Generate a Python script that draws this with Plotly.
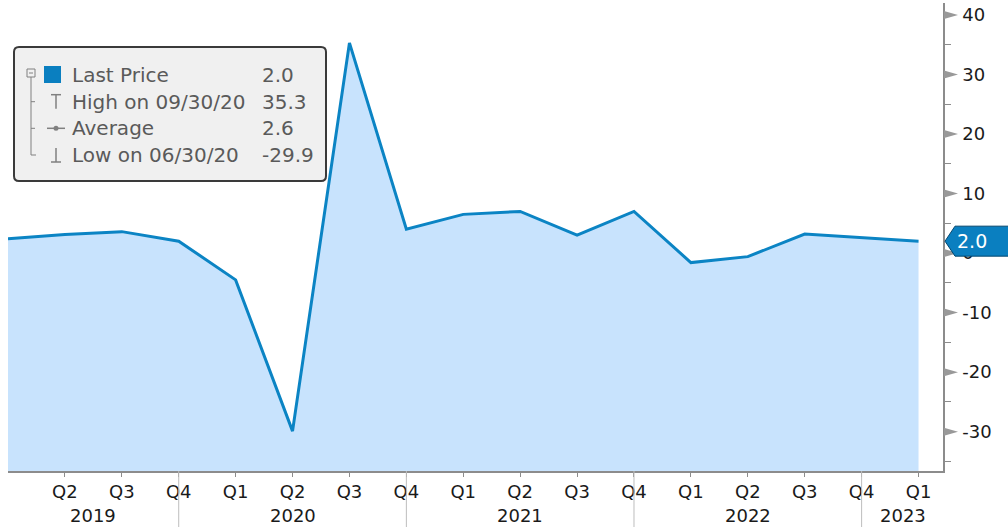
import plotly.graph_objects as go

# ---- data ----
quarters = ["2019 Q1", "2019 Q2", "2019 Q3", "2019 Q4",
            "2020 Q1", "2020 Q2", "2020 Q3", "2020 Q4",
            "2021 Q1", "2021 Q2", "2021 Q3", "2021 Q4",
            "2022 Q1", "2022 Q2", "2022 Q3", "2022 Q4",
            "2023 Q1"]
values = [2.4, 3.1, 3.6, 2.0, -4.5, -29.9, 35.3, 4.0, 6.5, 7.0, 3.0, 7.0,
          -1.6, -0.6, 3.2, 2.6, 2.0]
quarter_labels = [q.split(" ")[1] for q in quarters]
years = ["2019", "2020", "2021", "2022", "2023"]
year_centers = [1.5, 5.0, 9.0, 13.0, 15.72]
year_bounds = ["2019 Q4", "2020 Q4", "2021 Q4", "2022 Q4"]
y_ticks = [-30, -20, -10, 0, 10, 20, 30, 40]
y_ticktext = ["-30", "-20", "-10", "0", "10", "20", "30", "40"]
legend_rows = [("Last Price", "2.0"), ("High on 09/30/20", "35.3"),
               ("Average", "2.6"), ("Low on 06/30/20", "-29.9")]
last_value = values[-1]

Y_MIN, Y_MAX = -36.6, 42.0
X_MAX = 16.43

W, H = 1008, 527
L, R, T, B = 8, 65, 3, 56
PW, PH = W - L - R, H - T - B


def px(x):
    return (x - L) / PW


def py(y):
    return (H - B - y) / PH


LINE = "#0B84C4"
FILL = "#C8E3FD"
AXIS = "#8C8C8C"
FONT = "DejaVu Sans"

fig = go.Figure()
fig.add_trace(go.Scatter(x=quarters, y=[Y_MIN] * len(quarters), mode="lines",
                         line=dict(width=0), hoverinfo="skip", showlegend=False))
fig.add_trace(go.Scatter(x=quarters, y=values, mode="lines", fill="tonexty",
                         fillcolor=FILL, line=dict(color=LINE, width=3),
                         showlegend=False))

shapes = []
# year separators
for q in year_bounds:
    shapes.append(dict(type="line", xref="x", yref="paper", x0=q, x1=q,
                       y0=0, y1=-B / PH, line=dict(color="#BDBDBD", width=1)))
# y-axis triangles at major ticks
ppu = PH / (Y_MAX - Y_MIN)
for v in y_ticks:
    h = 4.0 / ppu
    shapes.append(dict(type="path", xref="paper", yref="y",
                       path=f"M {px(944)} {v + h} L {px(958)} {v} L {px(944)} {v - h} Z",
                       fillcolor="#999999", line=dict(width=0), layer="above"))

# last price tag
hh = 15 / ppu
tag = (f"M {px(945)} {last_value} L {px(955)} {last_value + hh} "
       f"L {px(1012)} {last_value + hh} L {px(1012)} {last_value - hh} "
       f"L {px(955)} {last_value - hh} Z")
shapes.append(dict(type="path", xref="paper", yref="y", path=tag,
                   fillcolor="#0A7FC0", line=dict(color="#04466E", width=1),
                   layer="above"))


# legend box (rounded)
def rrect(x0, y0, x1, y1, r):
    return (f"M {px(x0 + r)} {py(y0)} L {px(x1 - r)} {py(y0)} "
            f"Q {px(x1)} {py(y0)} {px(x1)} {py(y0 + r)} "
            f"L {px(x1)} {py(y1 - r)} Q {px(x1)} {py(y1)} {px(x1 - r)} {py(y1)} "
            f"L {px(x0 + r)} {py(y1)} Q {px(x0)} {py(y1)} {px(x0)} {py(y1 - r)} "
            f"L {px(x0)} {py(y0 + r)} Q {px(x0)} {py(y0)} {px(x0 + r)} {py(y0)} Z")


shapes.append(dict(type="path", xref="paper", yref="paper",
                   path=rrect(14, 47, 326, 181, 5), fillcolor="#F0F0F0",
                   line=dict(color="#3A3A3A", width=2), layer="above"))

row_y = [75, 101.7, 128.3, 155]
G = "#808080"


def seg(x0, y0, x1, y1, color=G, w=1):
    return dict(type="line", xref="paper", yref="paper", x0=px(x0), y0=py(y0),
                x1=px(x1), y1=py(y1), line=dict(color=color, width=w), layer="above")


# tree
shapes.append(dict(type="rect", xref="paper", yref="paper", x0=px(27), y0=py(69),
                   x1=px(35), y1=py(77), line=dict(color=G, width=1), layer="above"))
shapes.append(seg(29, 73, 33, 73))
shapes.append(seg(31, 77, 31, row_y[3]))
shapes.append(seg(31, row_y[1], 35, row_y[1]))
shapes.append(seg(31, row_y[2], 35, row_y[2]))
shapes.append(seg(31, row_y[3], 36, row_y[3]))
# blue square
shapes.append(dict(type="rect", xref="paper", yref="paper", x0=px(44), y0=py(66),
                   x1=px(61), y1=py(83), fillcolor="#0A7FC0", line=dict(width=0),
                   layer="above"))
# high icon
shapes.append(seg(51, row_y[1] - 7, 61, row_y[1] - 7, G, 1.5))
shapes.append(seg(56, row_y[1] - 7, 56, row_y[1] + 7, G, 1.5))
# average icon
shapes.append(seg(47, row_y[2], 65, row_y[2], G, 1.5))
shapes.append(dict(type="circle", xref="paper", yref="paper", x0=px(53.5), y0=py(row_y[2] - 2.5),
                   x1=px(58.5), y1=py(row_y[2] + 2.5), fillcolor=G, line=dict(width=0),
                   layer="above"))
# low icon
shapes.append(seg(56, row_y[3] - 7, 56, row_y[3] + 7, G, 1.5))
shapes.append(seg(51, row_y[3] + 7, 61, row_y[3] + 7, G, 1.5))

annotations = []
for (lab, val), yy in zip(legend_rows, row_y):
    annotations.append(dict(xref="paper", yref="paper", x=px(70), y=py(yy),
                            xanchor="left", yanchor="middle", text=lab, showarrow=False,
                            font=dict(family=FONT, size=20, color="#5A5A5A")))
    annotations.append(dict(xref="paper", yref="paper", x=px(260), y=py(yy),
                            xanchor="left", yanchor="middle", text=val, showarrow=False,
                            font=dict(family=FONT, size=20, color="#5A5A5A")))
for yr, c in zip(years, year_centers):
    annotations.append(dict(xref="x", yref="paper", x=c, y=py(515), xanchor="center",
                            yanchor="middle", text=yr, showarrow=False,
                            font=dict(family=FONT, size=18, color="#1A1A1A")))
annotations.append(dict(xref="paper", yref="y", x=px(972), y=last_value, xanchor="center",
                        yanchor="middle", text=f"{last_value:.1f}", showarrow=False,
                        font=dict(family=FONT, size=19, color="white")))

fig.update_layout(
    width=W, height=H, margin=dict(l=L, r=R, t=T, b=B),
    paper_bgcolor="white", plot_bgcolor="white",
    shapes=shapes, annotations=annotations, showlegend=False,
    xaxis=dict(type="category", range=[0, X_MAX], tickvals=quarters[1:],
               ticktext=quarter_labels[1:], showgrid=False, zeroline=False,
               showline=True, linecolor=AXIS, linewidth=1.5,
               ticks="outside", ticklen=4, tickcolor=AXIS,
               tickfont=dict(family=FONT, size=18, color="#1A1A1A")),
    yaxis=dict(side="right", range=[Y_MIN, Y_MAX], tickvals=y_ticks,
               ticktext=y_ticktext,
               showgrid=False, zeroline=False, showline=True, linecolor=AXIS,
               linewidth=1.5, ticks="outside", ticklen=14,
               tickcolor="rgba(0,0,0,0)",
               minor=dict(tick0=-35, dtick=5, ticks="outside", ticklen=6,
                          tickcolor=AXIS, showgrid=False),
               tickfont=dict(family=FONT, size=18, color="#1A1A1A")),
)

fig.write_html("out.html", config={"displayModeBar": False},
               post_script="document.body.style.margin='0';")
